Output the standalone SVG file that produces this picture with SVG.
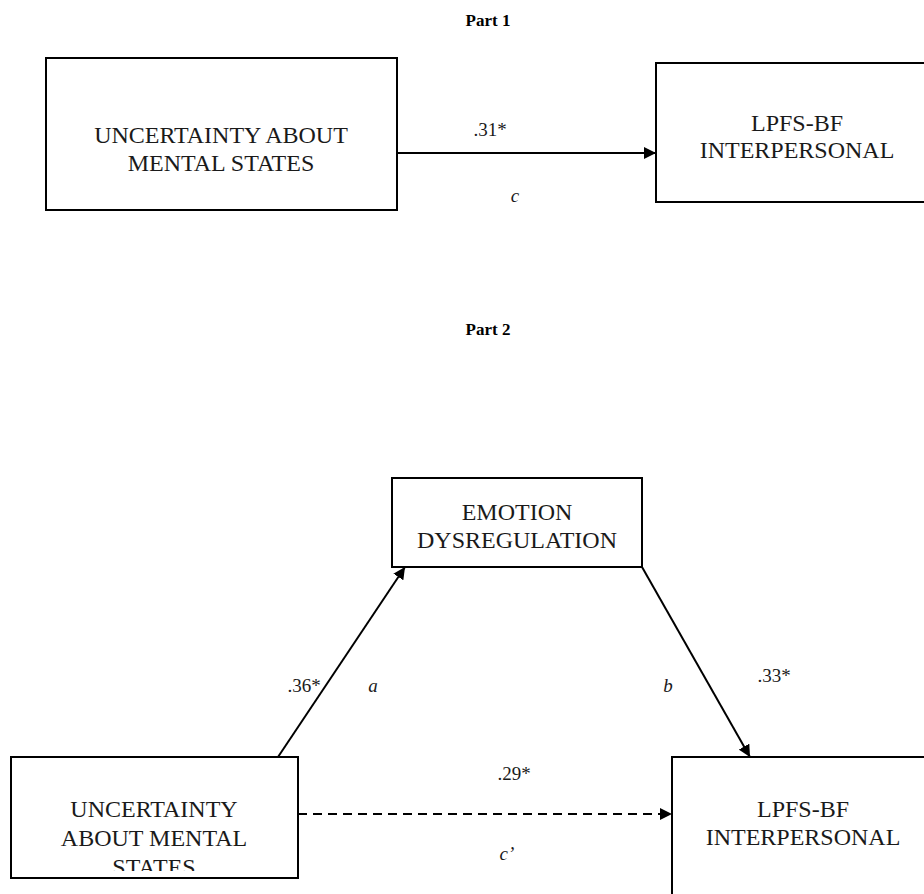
<svg xmlns="http://www.w3.org/2000/svg" width="924" height="894" viewBox="0 0 924 894">
<style>
.box{fill:#fff;stroke:#000;stroke-width:2}
.t{font-family:"Liberation Serif","Times New Roman",serif;font-size:24px;fill:#1a1a1a;text-anchor:middle}
.lbl{font-family:"Liberation Serif","Times New Roman",serif;font-size:19px;fill:#1a1a1a;text-anchor:middle}
.it{font-style:italic}
.title{font-family:"Liberation Serif","Times New Roman",serif;font-size:17px;font-weight:bold;fill:#000;text-anchor:middle}
.edge{stroke:#000;stroke-width:2;fill:none}
.dash{stroke-dasharray:9 6}
</style>
<defs>
<marker id="arr" viewBox="0 0 12 12" refX="12" refY="6" markerWidth="12" markerHeight="12" markerUnits="userSpaceOnUse" orient="auto">
<path d="M0,0 L12,6 L0,12 Z" fill="#000"/>
</marker>
<clipPath id="clipL"><rect x="12" y="758" width="285" height="113"/></clipPath>
</defs>
<text class="title" x="488" y="26">Part 1</text>
<text class="title" x="488" y="335">Part 2</text>
<g id="p1-uncertainty">
<rect class="box" x="46" y="58" width="351" height="152"/>
<text class="t" x="221" y="143">UNCERTAINTY ABOUT</text>
<text class="t" x="221" y="171">MENTAL STATES</text>
</g>
<g id="p1-lpfs">
<rect class="box" x="656" y="63" width="280" height="139"/>
<text class="t" x="797" y="131">LPFS-BF</text>
<text class="t" x="797" y="158">INTERPERSONAL</text>
</g>
<g id="p2-emotion">
<rect class="box" x="392" y="478" width="250" height="89"/>
<text class="t" x="517" y="520">EMOTION</text>
<text class="t" x="517" y="548">DYSREGULATION</text>
</g>
<g id="p2-uncertainty">
<rect class="box" x="11" y="757" width="287" height="121"/>
<g clip-path="url(#clipL)">
<text class="t" x="154" y="817">UNCERTAINTY</text>
<text class="t" x="154" y="846">ABOUT MENTAL</text>
<text class="t" x="154" y="875">STATES</text>
</g>
</g>
<g id="p2-lpfs">
<rect class="box" x="672" y="757" width="270" height="150"/>
<text class="t" x="803" y="817">LPFS-BF</text>
<text class="t" x="803" y="845">INTERPERSONAL</text>
</g>
<g id="connectors">
<line class="edge" x1="397" y1="153" x2="656" y2="153" marker-end="url(#arr)"/>
<line class="edge" x1="278" y1="757" x2="405" y2="567" marker-end="url(#arr)"/>
<line class="edge" x1="642" y1="567" x2="750" y2="757" marker-end="url(#arr)"/>
<line class="edge dash" x1="298" y1="814" x2="672" y2="814" marker-end="url(#arr)"/>
</g>
<g id="labels">
<text class="lbl" x="490" y="136">.31*</text>
<text class="lbl it" x="515" y="202">c</text>
<text class="lbl" x="304" y="692">.36*</text>
<text class="lbl it" x="373" y="692">a</text>
<text class="lbl it" x="668" y="692">b</text>
<text class="lbl" x="774" y="682">.33*</text>
<text class="lbl" x="514" y="780">.29*</text>
<text class="lbl it" x="507" y="860">c’</text>
</g>
</svg>
